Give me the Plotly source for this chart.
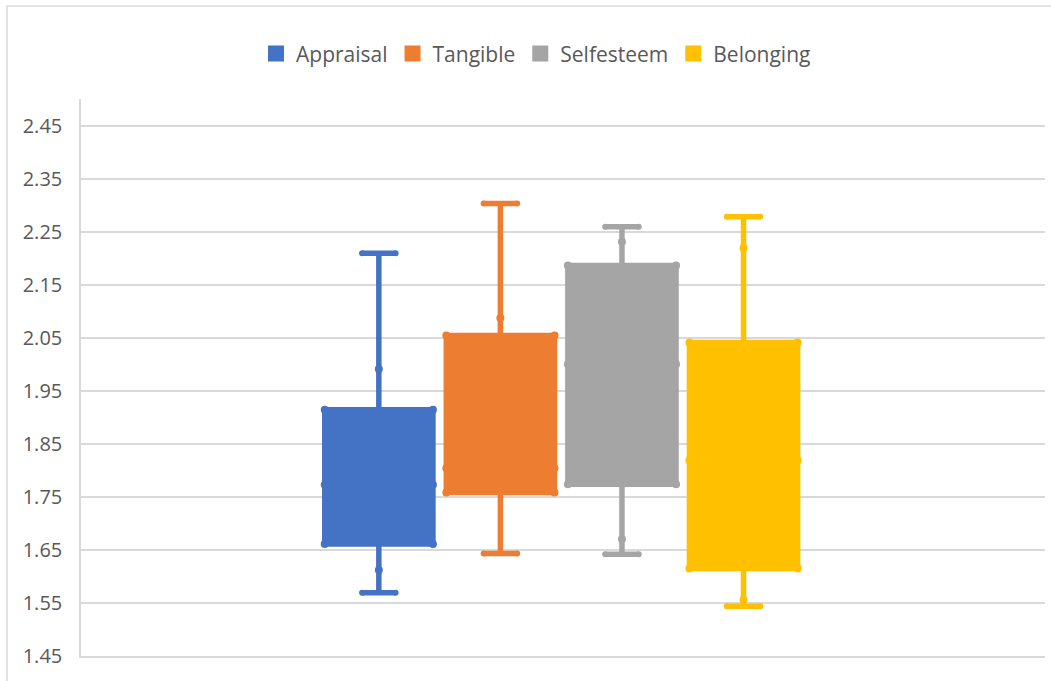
import plotly.graph_objects as go

# ---- data ----
series = ["Appraisal", "Tangible", "Selfesteem", "Belonging"]
colors = ["#4472C4", "#ED7D31", "#A5A5A5", "#FFC000"]
minimum = [1.569, 1.643, 1.642, 1.544]
q1 = [1.661, 1.758, 1.774, 1.615]
median = [1.773, 1.804, 2.000, 1.819]
q3 = [1.914, 2.054, 2.186, 2.041]
maximum = [2.209, 2.303, 2.259, 2.278]
upper_mark = [1.991, 2.087, 2.231, 2.219]
lower_mark = [1.612, None, 1.670, 1.556]
y_ticks = [1.45, 1.55, 1.65, 1.75, 1.85, 1.95, 2.05, 2.15, 2.25, 2.35, 2.45]

# ---- layout constants ----
BOX_W = 0.89       # box width in slot units
CAP_FRAC = 0.31    # whisker cap width relative to box
LINE_W = 5.5
TEXT = "#595959"
GRID = "#D9D9D9"
FONT = "Open Sans"

n = len(series)
positions = [i - (n - 1) / 2 for i in range(n)]

fig = go.Figure()

for i, name in enumerate(series):
    c = colors[i]
    p = positions[i]
    fig.add_trace(go.Box(
        x=[p], q1=[q1[i]], median=[median[i]], q3=[q3[i]],
        lowerfence=[minimum[i]], upperfence=[maximum[i]],
        width=BOX_W, whiskerwidth=CAP_FRAC,
        line=dict(color=c, width=LINE_W), fillcolor=c,
        showlegend=False, hoverinfo="skip", name=name,
    ))
    # rounded dots at box edges (q1, median, q3) and cap ends
    hx = BOX_W / 2
    cx = BOX_W * CAP_FRAC / 2
    dx, dy = [], []
    for v in (q1[i], median[i], q3[i]):
        dx += [p - hx, p + hx]
        dy += [v, v]
    fig.add_trace(go.Scatter(
        x=dx, y=dy, mode="markers",
        marker=dict(color=c, size=8, line=dict(width=0)),
        showlegend=False, hoverinfo="skip",
    ))
    ex, ey = [], []
    for v in (minimum[i], maximum[i]):
        ex += [p - cx, p + cx]
        ey += [v, v]
    fig.add_trace(go.Scatter(
        x=ex, y=ey, mode="markers",
        marker=dict(color=c, size=6, line=dict(width=0)),
        showlegend=False, hoverinfo="skip",
    ))
    # whisker markers
    wy = [v for v in (upper_mark[i], lower_mark[i]) if v is not None]
    fig.add_trace(go.Scatter(
        x=[p] * len(wy), y=wy, mode="markers",
        marker=dict(color=c, size=8, line=dict(width=0)),
        showlegend=False, hoverinfo="skip",
    ))

# legend-only traces
for i, name in enumerate(series):
    fig.add_trace(go.Scatter(
        x=[None], y=[None], mode="markers", name=name,
        marker=dict(color=colors[i], symbol="square", size=19, line=dict(width=0)),
    ))

# chart-area border (left and top edges, as in the reference)
fig.add_shape(type="rect", xref="paper", yref="paper",
              x0=-0.0768, x1=1.02, y0=-0.1, y1=1.167,
              line=dict(color="#D9D9D9", width=1.5), fillcolor="rgba(0,0,0,0)",
              layer="below")

fig.update_layout(
    width=1051, height=681,
    margin=dict(l=81, r=6, t=99, b=25),
    paper_bgcolor="white", plot_bgcolor="white",
    font=dict(family=FONT, color=TEXT, size=20),
    showlegend=True,
    legend=dict(orientation="h", x=0.472, xanchor="center", y=1.081, yanchor="middle",
                font=dict(family=FONT, size=21, color=TEXT),
                itemsizing="trace", traceorder="normal"),
    xaxis=dict(range=[-3.95, 3.98], showticklabels=False, showgrid=False,
               zeroline=False, showline=True, linecolor=GRID, linewidth=1.5,
               ticks="", fixedrange=True),
    yaxis=dict(range=[1.45, 2.50], tickvals=y_ticks, tickformat=".2f",
               showgrid=True, gridcolor=GRID, gridwidth=1.5, zeroline=False,
               showline=True, linecolor=GRID, linewidth=1.5, ticks="",
               ticklabelstandoff=13,
               tickfont=dict(family=FONT, size=20, color=TEXT)),
)

fig.write_html("out.html")
